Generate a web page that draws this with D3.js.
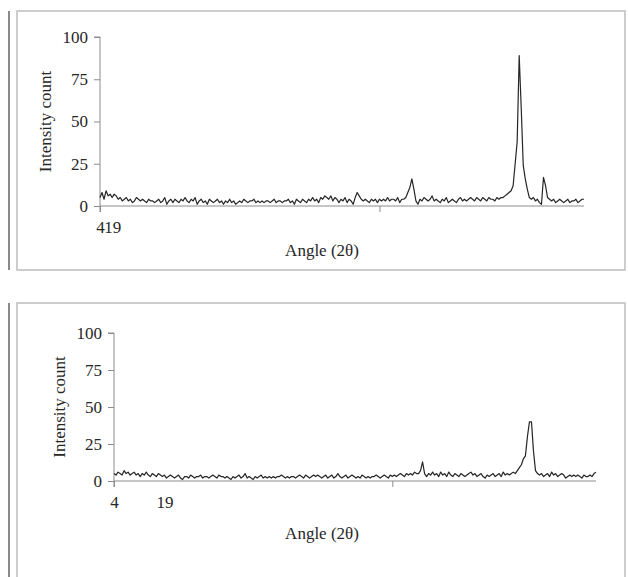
<!DOCTYPE html>
<html>
<head>
	<script src="https://cdn.jsdelivr.net/npm/d3@7"></script>
	<style>
		html, body {
			padding: 0;
			margin: 0;
			background: #fff;
		}
	</style>
</head>
<body>
	<script>
		/* ---- data: intensity counts ---- */
		var topValues = [
			5,8,4,9,6,7,5,7,6,4,  5,3,4,5,3,4,2,3,5,4,
			3,4,3,2,4,3,3,2,3,4,  2,3,5,1,3,4,2,4,3,2,
			4,3,5,3,2,4,3,5,1,3,  4,2,3,1,4,3,2,3,4,2,
			3,1,3,2,4,2,3,1,2,3,  2,4,3,2,3,3,4,2,3,2,
			3,2,3,3,2,3,4,2,3,3,  2,3,3,4,2,3,1,4,3,2,
			4,3,2,4,3,5,3,4,2,5,  4,6,5,4,6,3,5,4,2,4,
			3,5,2,4,3,1,5,8,6,4,  3,4,3,2,4,3,4,2,4,3,
			4,3,5,3,4,4,3,5,2,4,  4,5,8,11,16,10,3,1,4,3,
			5,4,3,4,6,3,4,3,2,4,  3,5,2,3,4,3,2,4,5,3,
			4,3,4,5,4,3,5,4,3,5,  4,3,5,4,4,3,5,4,5,5,
			6,7,8,9,12,25,38,89,58,24,  16,10,5,4,5,3,4,2,1,17,
			12,5,4,3,4,2,3,4,3,2,  3,4,2,3,3,4,2,3,4,4
		];
		var bottomValues = [
			5,4,6,5,4,7,5,6,4,5,  6,4,5,3,5,4,6,4,3,5,
			4,3,5,4,3,4,2,3,4,3,  2,3,4,2,1,3,3,2,4,3,
			2,3,3,4,2,3,3,2,3,4,  3,2,4,3,3,2,3,2,1,3,
			2,3,4,2,3,5,2,3,2,1,  3,2,3,4,2,3,2,3,2,3,
			2,3,3,4,3,2,3,2,3,3,  2,3,4,3,2,4,3,2,3,4,
			3,4,3,2,3,4,2,3,4,2,  3,5,3,2,3,4,2,3,4,3,
			2,3,2,4,3,2,3,2,3,3,  4,3,2,3,4,3,2,4,3,4,
			3,4,5,4,3,5,4,5,4,6,  5,5,7,13,5,3,5,4,6,4,
			5,3,6,4,5,3,6,4,3,5,  4,3,5,4,3,4,5,6,4,5,
			3,4,5,3,2,4,3,4,5,3,  4,5,3,6,4,5,4,5,6,5,
			7,9,11,15,17,30,40,40,20,7,  5,4,5,3,4,5,3,6,4,5,
			3,4,5,4,2,3,4,3,4,3,  4,3,2,4,3,3,4,3,5,6
		];

		/* category axis: which samples carry a tick, and what they read */
		var topTickIdx       = [0, 6, 138];
		var topTickLabels    = ["4", "19", ""];
		var bottomTickIdx    = [0, 25, 138];
		var bottomTickLabels = ["4", "19", ""];
		var yTicks = [0, 25, 50, 75, 100];
		var yTitle = "Intensity count";
		var xTitle = "Angle (2\u03b8)";

		var width = 628, height = 577;
		var font = "'Liberation Serif', 'Times New Roman', serif";
		var ink = '#262626';

		var svg = d3.select('body').append('svg')
			.attr('width', width)
			.attr('height', height)
			.style('display', 'block');

		/* panel frames, as in the scanned page */
		svg.append('rect')
			.attr('x', 17).attr('y', 11)
			.attr('width', 608).attr('height', 259)
			.attr('fill', 'none').attr('stroke', '#bdbdbd').attr('stroke-width', 1.5);
		svg.append('path')
			.attr('d', 'M17,' + height + 'V303H625V' + height)
			.attr('fill', 'none').attr('stroke', '#bdbdbd').attr('stroke-width', 1.5);
		svg.append('line')
			.attr('x1', 9).attr('x2', 9).attr('y1', 11).attr('y2', 270)
			.attr('stroke', '#8a8a8a').attr('stroke-width', 2);
		svg.append('line')
			.attr('x1', 9).attr('x2', 9).attr('y1', 303).attr('y2', height)
			.attr('stroke', '#8a8a8a').attr('stroke-width', 2);

		var drawChart = function(values, tickIdx, tickLabels, left, right, top, bottom, titleGap) {
			var x = d3.scaleLinear().domain([0, values.length - 1]).range([left, right]);
			var y = d3.scaleLinear().domain([0, 100]).range([bottom, top]);
			var g = svg.append('g');

			/* y axis */
			var yAxis = g.append('g')
				.attr('transform', 'translate(' + left + ',0)')
				.call(d3.axisLeft(y).tickValues(yTicks).tickSize(6).tickPadding(6));
			yAxis.select('.domain').attr('stroke', '#8c8c8c').attr('d', 'M-6,' + top + 'H0V' + (bottom + 6));
			yAxis.selectAll('.tick line').attr('stroke', '#8c8c8c');
			yAxis.selectAll('.tick text')
				.attr('font-family', font).attr('font-size', 17).attr('fill', ink);

			/* x axis (category style) */
			var xAxis = g.append('g')
				.attr('transform', 'translate(0,' + bottom + ')')
				.call(d3.axisBottom(x).tickValues(tickIdx)
					.tickFormat(function(d, i) { return tickLabels[i]; })
					.tickSize(6).tickPadding(9));
			xAxis.select('.domain').attr('stroke', '#8c8c8c').attr('d', 'M' + left + ',0H' + right);
			xAxis.selectAll('.tick line')
				.attr('stroke', '#8c8c8c')
				.attr('y2', function(d, i) { return tickLabels[i] === "" || i === 0 ? 6 : 0; });
			xAxis.selectAll('.tick text')
				.attr('font-family', font).attr('font-size', 17).attr('fill', ink);

			/* trace */
			var line = d3.line()
				.x(function(d, i) { return x(i); })
				.y(function(d) { return y(d); });
			g.append('path')
				.datum(values)
				.attr('d', line)
				.attr('fill', 'none')
				.attr('stroke', ink)
				.attr('stroke-width', 1.2)
				.attr('stroke-linejoin', 'round');

			/* titles */
			g.append('text')
				.attr('transform', 'translate(' + (left - 55) + ',' + ((top + bottom) / 2) + ') rotate(-90)')
				.attr('text-anchor', 'middle')
				.attr('dy', '0.35em')
				.attr('font-family', font).attr('font-size', 17).attr('fill', ink)
				.text(yTitle);
			g.append('text')
				.attr('x', 322)
				.attr('y', bottom + titleGap)
				.attr('text-anchor', 'middle')
				.attr('dy', '0.35em')
				.attr('font-family', font).attr('font-size', 17).attr('fill', ink)
				.text(xTitle);
		};

		drawChart(topValues, topTickIdx, topTickLabels, 100, 584, 37, 206, 44);
		drawChart(bottomValues, bottomTickIdx, bottomTickLabels, 114, 596, 333, 481, 52);
	</script>
</body>
</html>
